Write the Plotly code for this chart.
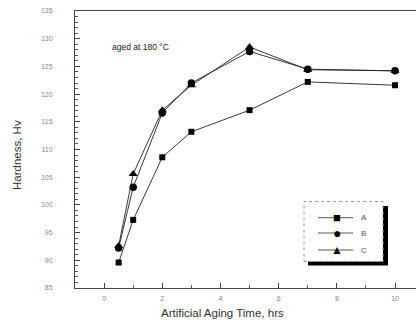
import plotly.graph_objects as go

time_hrs = [0.5, 1, 2, 3, 5, 7, 10]
hv_A = [89.6, 97.3, 108.6, 113.2, 117.1, 122.2, 121.6]
hv_B = [92.2, 103.2, 116.6, 122.0, 127.7, 124.5, 124.2]
hv_C = [92.6, 105.6, 117.1, 121.6, 128.5, 124.4, 124.2]
series_names = ["A", "B", "C"]
x_ticks = [0, 2, 4, 6, 8, 10]
y_ticks = [85, 90, 95, 100, 105, 110, 115, 120, 125, 130, 135]

W, H = 417, 328
L, R, T, B = 75, 1, 11, 40
PW, PH = W - L - R, H - T - B


def px(x):
    return (x - L) / PW


def py(y):
    return (H - B - y) / PH


fig = go.Figure()
styles = [("square", 6, "■", 13), ("circle", 7.5, "●", 14), ("triangle-up", 8, "▲", 12)]
for name, ys, (sym, sz, _, _) in zip(series_names, [hv_A, hv_B, hv_C], styles):
    fig.add_trace(go.Scatter(
        x=time_hrs, y=ys, name=name, mode="lines+markers",
        line=dict(color="#222", width=0.9),
        marker=dict(symbol=sym, size=sz, color="#000"),
        showlegend=False,
    ))

shapes = [
    # legend shadow
    dict(type="rect", xref="paper", yref="paper", layer="above",
         x0=px(308), x1=px(388), y0=py(265.5), y1=py(206),
         fillcolor="black", line=dict(width=0)),
    # legend box
    dict(type="rect", xref="paper", yref="paper", layer="above",
         x0=px(304), x1=px(383), y0=py(261.5), y1=py(201.5),
         fillcolor="white", line=dict(width=1, color="#999", dash="dot")),
]
annotations = [
    dict(text="aged at 180 °C", xref="paper", yref="paper",
         x=px(110), y=py(47), xanchor="left", yanchor="middle",
         showarrow=False, font=dict(size=8.5, color="#222")),
    dict(text="Artificial Aging Time, hrs", xref="paper", yref="paper",
         x=px(222), y=py(313), xanchor="center", yanchor="middle",
         showarrow=False, font=dict(size=11.5, color="#333")),
    dict(text="Hardness, Hv", xref="paper", yref="paper", textangle=-90,
         x=px(17), y=py(155), xanchor="center", yanchor="middle",
         showarrow=False, font=dict(size=11.5, color="#333")),
]
entry_y = [217.7, 233, 250]
for name, ey, (_, _, glyph, gsz) in zip(series_names, entry_y, styles):
    shapes.append(dict(type="line", xref="paper", yref="paper", layer="above",
                       x0=px(318), x1=px(353), y0=py(ey), y1=py(ey),
                       line=dict(color="#444", width=0.9)))
    annotations.append(dict(text=glyph, xref="paper", yref="paper",
                            x=px(336.5), y=py(ey), xanchor="center", yanchor="middle",
                            showarrow=False, font=dict(size=gsz, color="#000")))
    annotations.append(dict(text=name, xref="paper", yref="paper",
                            x=px(359), y=py(ey), xanchor="left", yanchor="middle",
                            showarrow=False, font=dict(size=8, color="#555")))

fig.update_layout(
    width=W, height=H,
    margin=dict(l=L, r=R, t=T, b=B),
    paper_bgcolor="white", plot_bgcolor="white",
    font=dict(family="Liberation Sans, Arial, sans-serif", color="#333"),
    showlegend=False,
    xaxis=dict(
        range=[-1, 10.72], tickvals=x_ticks, ticktext=[str(v) for v in x_ticks],
        ticks="inside", ticklen=5, tickcolor="#444",
        minor=dict(dtick=1, ticks="inside", ticklen=3, tickcolor="#555"),
        showline=True, linecolor="#444", linewidth=1, mirror=True,
        showgrid=False, zeroline=False,
        tickfont=dict(size=7, color="#888"), ticklabelstandoff=4,
    ),
    yaxis=dict(
        range=[85, 135], tickvals=y_ticks, ticktext=[str(v) for v in y_ticks],
        ticks="inside", ticklen=5, tickcolor="#444",
        minor=dict(dtick=1, ticks="inside", ticklen=3, tickcolor="#555"),
        showline=True, linecolor="#444", linewidth=1, mirror=False,
        showgrid=False, zeroline=False,
        tickfont=dict(size=7, color="#888"), ticklabelstandoff=20,
    ),
    annotations=annotations,
    shapes=shapes,
)

fig.write_html("out.html")
